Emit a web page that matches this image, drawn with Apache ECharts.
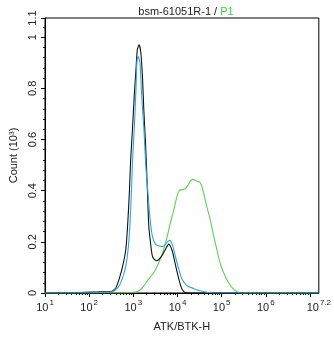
<!DOCTYPE html>
<html>
<head>
<meta charset="utf-8">
<script src="https://cdn.jsdelivr.net/npm/echarts@6/dist/echarts.min.js"></script>
<style>
html,body{margin:0;padding:0;background:#fff;}
#c{width:334px;height:337px;}
</style>
</head>
<body>
<div id="c"></div>
<script>
// x positions are log10 of ATK/BTK-H intensity; counts in thousands
const blackLog   = [1.0, 1.82, 2.16, 2.38, 2.50, 2.56, 2.61, 2.68, 2.76, 2.83, 2.87, 2.91, 2.94, 2.98, 3.02, 3.06, 3.09, 3.13, 3.17, 3.21, 3.24, 3.28, 3.32, 3.35, 3.39, 3.43, 3.47, 3.53, 3.62, 3.73, 3.80, 3.88, 3.95, 4.03, 4.10, 4.18, 4.40, 7.2];
const blackCount = [0, 0.002, 0.004, 0.005, 0.006, 0.012, 0.022, 0.055, 0.106, 0.171, 0.262, 0.392, 0.522, 0.639, 0.769, 0.873, 0.951, 0.970, 0.939, 0.834, 0.705, 0.574, 0.393, 0.262, 0.195, 0.145, 0.132, 0.126, 0.139, 0.171, 0.191, 0.165, 0.113, 0.055, 0.016, 0.002, 0, 0];

const blueLog    = [1.0, 2.27, 2.50, 2.57, 2.68, 2.76, 2.83, 2.89, 2.93, 2.97, 2.98, 3.02, 3.06, 3.08, 3.11, 3.15, 3.19, 3.24, 3.28, 3.33, 3.38, 3.43, 3.50, 3.58, 3.67, 3.77, 3.82, 3.88, 3.95, 4.03, 4.10, 4.22, 4.36, 4.51, 4.66, 4.81, 7.2];
const blueCount  = [0, 0.002, 0.004, 0.009, 0.028, 0.061, 0.106, 0.184, 0.288, 0.457, 0.510, 0.639, 0.795, 0.900, 0.924, 0.900, 0.769, 0.639, 0.503, 0.393, 0.288, 0.223, 0.191, 0.184, 0.182, 0.200, 0.206, 0.191, 0.145, 0.093, 0.055, 0.028, 0.018, 0.009, 0.003, 0, 0];

const greenLog   = [1.0, 2.83, 3.02, 3.13, 3.24, 3.35, 3.47, 3.58, 3.69, 3.77, 3.84, 3.92, 3.99, 4.05, 4.14, 4.20, 4.25, 4.29, 4.35, 4.44, 4.50, 4.55, 4.59, 4.66, 4.74, 4.81, 4.89, 4.96, 5.04, 5.15, 5.26, 5.37, 5.48, 7.2];
const greenCount = [0, 0, 0.003, 0.009, 0.028, 0.055, 0.081, 0.120, 0.171, 0.223, 0.275, 0.327, 0.379, 0.402, 0.405, 0.412, 0.425, 0.437, 0.444, 0.437, 0.434, 0.418, 0.392, 0.340, 0.288, 0.230, 0.171, 0.120, 0.081, 0.042, 0.016, 0.003, 0, 0];

const xLabelExponents = [1, 2, 3, 4, 5, 6, 7.2];
const xMajorTicks = [1, 2, 3, 4, 5, 6, 7];
const yTickLabels = ['0', '0.2', '0.4', '0.6', '0.8', '1', '1.1'];

const xMin = 1, xMax = 7.2, yMin = 0, yMax = 1.075;
const FONT = 'Liberation Sans, Arial, sans-serif';

const minorTicks = [];
for (let d = 1; d <= 7; d++) {
  for (let k = 2; k <= 9; k++) {
    const v = d + Math.log10(k);
    if (v < xMax) minorTicks.push(v);
  }
}
function pairs(xs, ys) { return xs.map((x, i) => [x, ys[i]]); }

const chart = echarts.init(document.getElementById('c'), null, {renderer: 'canvas'});
chart.setOption({
  animation: false,
  backgroundColor: '#fff',
  title: {
    text: '{a|bsm-61051R-1 / }{g|P1}',
    left: 181, top: 1, textAlign: 'center',
    textStyle: {
      fontWeight: 'normal',
      rich: {
        a: {fontFamily: FONT, fontSize: 11, fontWeight: 'normal', color: '#222'},
        g: {fontFamily: FONT, fontSize: 11, fontWeight: 'normal', color: '#3ccf3c'}
      }
    }
  },
  grid: {left: 43, right: 14, top: 18, bottom: 43, show: true, borderColor: '#000', borderWidth: 1, containLabel: false},
  xAxis: [{
    type: 'value', min: xMin, max: xMax, position: 'bottom',
    name: 'ATK/BTK-H', nameLocation: 'middle', nameGap: 28,
    nameTextStyle: {fontFamily: FONT, fontSize: 11, color: '#222'},
    axisLine: {show: true, lineStyle: {color: '#000', width: 1}},
    axisTick: {show: true, length: 4, customValues: xMajorTicks, lineStyle: {color: '#000'}},
    splitLine: {show: false},
    axisLabel: {
      customValues: xLabelExponents, margin: 6,
      formatter: v => '{b|10}{s|' + (Math.round(v * 10) / 10) + '}',
      rich: {
        b: {fontFamily: FONT, fontSize: 11, color: '#222', lineHeight: 14, verticalAlign: 'bottom'},
        s: {fontFamily: FONT, fontSize: 8, color: '#222', lineHeight: 14, verticalAlign: 'top', padding: [0, 0, 0, 1]}
      }
    }
  }, {
    type: 'value', min: xMin, max: xMax, position: 'bottom',
    axisLine: {show: false},
    axisTick: {show: true, length: 2, customValues: minorTicks, lineStyle: {color: '#000'}},
    axisLabel: {show: false},
    splitLine: {show: false}
  }],
  yAxis: {
    type: 'value', min: yMin, max: yMax, interval: 0.2,
    name: 'Count (10³)', nameLocation: 'middle', nameGap: 26, nameRotate: 90,
    nameTextStyle: {fontFamily: FONT, fontSize: 11, color: '#222'},
    axisLine: {show: true, lineStyle: {color: '#000', width: 1}},
    axisTick: {show: true, length: 4, lineStyle: {color: '#000'}},
    minorTick: {show: true, splitNumber: 5, length: 2, lineStyle: {color: '#000'}},
    splitLine: {show: false},
    axisLabel: {
      rotate: 90, margin: 7, showMaxLabel: true,
      fontFamily: FONT, fontSize: 11, color: '#222',
      formatter: v => {
        const idx = Math.round(v / 0.2);
        return v > 1.01 ? yTickLabels[yTickLabels.length - 1] : yTickLabels[idx];
      }
    }
  },
  series: [
    {name: 'black', type: 'line', data: pairs(blackLog, blackCount), showSymbol: false, smooth: 0.25,
     lineStyle: {color: '#111', width: 1.1}, z: 3},
    {name: 'blue', type: 'line', data: pairs(blueLog, blueCount), showSymbol: false, smooth: 0.25,
     lineStyle: {color: '#2ea6d8', width: 1.1}, z: 4},
    {name: 'green', type: 'line', data: pairs(greenLog, greenCount), showSymbol: false, smooth: 0.25,
     lineStyle: {color: '#5ad24e', width: 1.1}, z: 2}
  ]
});
</script>
</body>
</html>
